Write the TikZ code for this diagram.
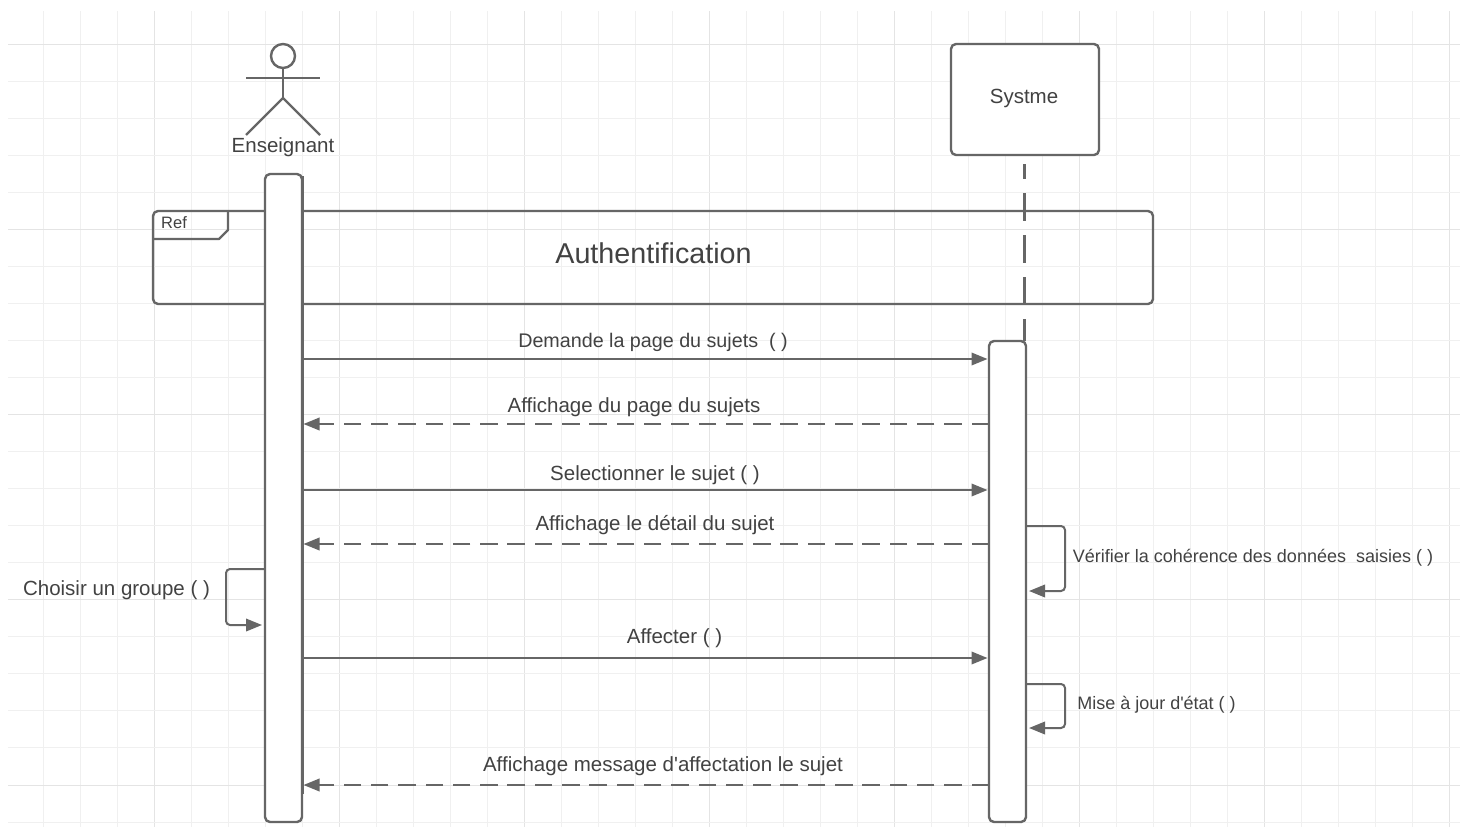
\documentclass[tikz,border=0pt]{standalone}
\usepackage{fontspec}
\setmainfont{Liberation Sans}
\usetikzlibrary{arrows.meta,calc}
\definecolor{ink}{HTML}{666666}
\definecolor{txt}{HTML}{424242}
\definecolor{gridminor}{HTML}{F0F0F0}
\definecolor{gridmajor}{HTML}{E4E4E4}
\newcommand{\fs}[1]{\fontsize{#1}{#1}\selectfont}
\tikzset{
  x=1pt,y=-1pt,
  shape line/.style={draw=ink,line width=2.4pt,line join=round},
  bar/.style={shape line,fill=white,rounded corners=5pt,minimum width=37pt,inner sep=0pt,anchor=north west,outer sep=0pt},
  msg/.style={draw=ink,line width=2pt,-{Triangle[length=16pt,width=12.5pt]}},
  retmsg/.style={msg,dash pattern=on 17.5pt off 9.8pt},
  self/.style={msg,rounded corners=4pt},
  lab/.style={text=txt,inner sep=0pt,font=\fs{20.5}},
  small/.style={text=txt,inner sep=0pt,font=\fs{18}},
}
\begin{document}
\begin{tikzpicture}
\useasboundingbox (0,0) rectangle (1464,827);
\fill[white] (0,0) rectangle (1464,827);
% grid
\foreach \i in {0,...,38}{
  \pgfmathtruncatemacro{\ism}{mod(\i+2,5)}
  \pgfmathsetmacro{\gx}{43+37*\i}
  \ifnum\ism=0 \def\gc{gridmajor}\else\def\gc{gridminor}\fi
  \draw[\gc,line width=1pt] (\gx,11) -- (\gx,827);
}
\foreach \i in {0,...,21}{
  \pgfmathtruncatemacro{\ism}{mod(\i,5)}
  \pgfmathsetmacro{\gy}{44+37.05*\i}
  \ifnum\ism=0 \def\gc{gridmajor}\else\def\gc{gridminor}\fi
  \draw[\gc,line width=1pt] (8,\gy) -- (1460,\gy);
}
% actor
\draw[shape line] (283,56) circle (12);
\draw[shape line] (283,68) -- (283,98);
\draw[shape line] (246,78) -- (320,78);
\draw[shape line] (246,135) -- (283,98) -- (320,135);
\node[lab] (actor) at (283,147) {Enseignant};
% system
\node[shape line,fill=white,rounded corners=5pt,minimum width=148pt,minimum height=111pt,inner sep=0pt,outer sep=0pt,anchor=north west] (sys) at (951,44) {};
\node[lab] (systxt) at (1024,98) {Systme};
% frame
\node[shape line,rounded corners=5pt,minimum width=1000pt,minimum height=93pt,inner sep=0pt,outer sep=0pt,anchor=north west] (ref) at (153,211) {};
\draw[shape line] (154,239) -- (219,239) -- (228,230) -- (228,211);
\node[small,font=\fs{16.5},anchor=west] (reftxt) at (161,223) {Ref};
\node[lab,font=\fs{28.7}] (authtxt) at (653.5,253) {Authentification};
% lifelines
\coordinate (sl) at (1024.5,341);
\draw[ink,line width=2.4pt,dash pattern=on 28pt off 14pt,dash phase=13pt] (sys.south -| sl) ++(0,9) -- (sl);
% activation bars
\node[bar,minimum height=648pt] (actA) at (265,174) {};
\draw[ink,line width=3.6pt] (302.3,176) -- (302.3,794);
\node[bar,minimum height=481pt] (actS) at (989,341) {};
% messages
\foreach \n/\y in {l1/359,l2/424,l3/490,l4/544,l5/658,l6/785}{\coordinate (\n) at (0,\y);}
\draw[msg] (actA.east|-l1) ++(1,0) -- ($(actS.west|-l1)+(-1.5,0)$);
\draw[retmsg] (actS.west|-l2) -- ($(actA.east|-l2)+(1.5,0)$);
\draw[msg] (actA.east|-l3) ++(1,0) -- ($(actS.west|-l3)+(-1.5,0)$);
\draw[retmsg] (actS.west|-l4) -- ($(actA.east|-l4)+(1.5,0)$);
\draw[msg] (actA.east|-l5) ++(1,0) -- ($(actS.west|-l5)+(-1.5,0)$);
\draw[retmsg] (actS.west|-l6) -- ($(actA.east|-l6)+(1.5,0)$);
% self messages
\coordinate (s1a) at (0,526); \coordinate (s1b) at (0,591);
\coordinate (s2a) at (0,684); \coordinate (s2b) at (0,728);
\coordinate (s3a) at (0,569); \coordinate (s3b) at (0,625);
\draw[self] (actS.east|-s1a) -- (1065,526) -- (1065,591) -- ($(actS.east|-s1b)+(3,0)$);
\draw[self] (actS.east|-s2a) -- (1065,684) -- (1065,728) -- ($(actS.east|-s2b)+(3,0)$);
\draw[self] (actA.west|-s3a) -- (226,569) -- (226,625) -- ($(actA.west|-s3b)+(-3,0)$);
% labels
\node[lab,font=\fs{19.7}] (t1) at (653,342) {Demande la page du sujets~ ( )};
\node[lab] (t2) at (634,407) {Affichage du page du sujets};
\node[lab] (t3) at (655,475) {Selectionner le sujet ( )};
\node[lab] (t4) at (655,525) {Affichage le détail du sujet};
\node[lab] (t5) at (674.5,638) {Affecter ( )};
\node[lab] (t6) at (663,766) {Affichage message d\textquotesingle affectation le sujet};
\node[lab] (t7) at (116.5,590) {Choisir un groupe ( )};
\node[small] (t8) at (1253,558) {Vérifier la cohérence des données~ saisies ( )};
\node[small] (t9) at (1156.5,705) {Mise à jour d\textquotesingle état ( )};
\end{tikzpicture}
\end{document}
